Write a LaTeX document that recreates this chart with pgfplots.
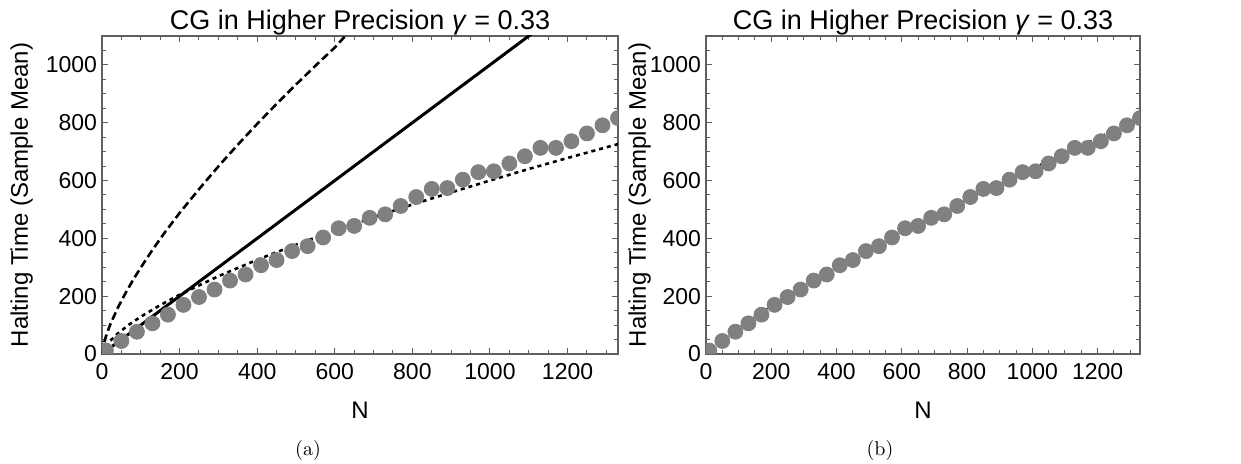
\documentclass[border=0pt]{standalone}
\usepackage{fontspec}
\usepackage{pgfplots}
\usepackage{pgfplotstable}
\pgfplotsset{compat=1.18}
\newfontfamily\arial{Liberation Sans}
\definecolor{dotgray}{RGB}{128,128,128}
\definecolor{framegray}{RGB}{95,95,95}

\pgfplotstableread{
N T
10 12
50 45
90 77
130 106
170 136
210 170
250 197
290 223
330 254
370 275
410 307
450 325
490 356
530 373
570 403
610 435
650 443
690 471
730 483
770 512
810 543
850 571
890 574
930 603
970 629
1010 632
1050 659
1090 684
1130 713
1170 713
1210 736
1250 763
1290 791
1330 816
}\dots

\pgfplotstableread{
N T
0 0
5 37
10 60
20 98
40 158
60 209
80 256
100 299
130 360
160 417
200 488
250 570
300 649
350 724
400 796
450 865
500 932
550 997
600 1060
627 1100
660 1150
}\dashedcurve

\pgfplotstableread{
N T
0 0
1100 1100
1140 1140
}\solidline

\pgfplotstableread{
N T
0 0
1 6
5 18
10 28
20 44
40 70
70 102
100 129
150 169
200 205
300 269
400 326
500 378
600 427
700 473
800 517
900 559
1000 600
1100 640
1200 678
1330 726
}\dottedcurve

\pgfplotstableread{
N T
0 0
10 13
50 52
100 93
200 166
300 234
400 298
500 359
600 418
700 476
800 533
900 588
1000 643
1100 696
1200 749
1330 817
}\fitcurve

\pgfplotsset{mystyle/.style={
  scale only axis, height=159pt,
  xmin=0,xmax=1330,ymin=0,ymax=1100,
  xtick={0,200,...,1200}, ytick={0,200,...,1000},
  minor xtick={50,100,...,1300}, minor ytick={50,100,...,1050},
  tick align=inside, major tick length=3pt, minor tick length=1.8pt,
  axis line style={framegray, line width=0.6pt},
  every tick/.style={framegray, line width=0.5pt},
  tick label style={font=\arial\fontsize{11.5}{13}\selectfont, black},
  /pgf/number format/assume math mode=true,
  /pgf/number format/1000 sep={},
  xticklabel style={yshift=-1pt},
  yticklabel style={xshift=1pt},
  label style={font=\arial\fontsize{12}{14}\selectfont},
  title style={font=\arial\fontsize{13.5}{15}\selectfont, at={(0.5,1)}, anchor=base, yshift=-3pt},
  title={CG in Higher Precision \textit{γ} = 0.33},
  xlabel={N}, ylabel={Halting Time (Sample Mean)},
  xlabel style={at={(axis description cs:0.5,-0.176)}, anchor=center},
  clip marker paths=true,
}}

\begin{document}
\begin{tikzpicture}
\path[use as bounding box] (0,0) rectangle (620.5pt,232pt);

\begin{axis}[mystyle, width=258pt, at={(51pt,55pt)}, anchor=south west,
  ylabel style={at={(axis description cs:-0.1556,0.5)}, anchor=center}]
\addplot[black, line width=1.3pt, dash pattern=on 4pt off 2pt] table[x=N,y=T] {\dashedcurve};
\addplot[black, line width=1.5pt] table[x=N,y=T] {\solidline};
\addplot[black, line width=1.3pt, dash pattern=on 2pt off 2pt] table[x=N,y=T] {\dottedcurve};
\addplot[only marks, mark=*, mark size=3.75pt, dotgray, mark options={draw=none, fill=dotgray}] table[x=N,y=T] {\dots};
\end{axis}

\begin{axis}[mystyle, width=217pt, at={(353pt,55pt)}, anchor=south west,
  ylabel style={at={(axis description cs:-0.153,0.5)}, anchor=center}]
\addplot[black, line width=0.6pt, dash pattern=on 1pt off 1.5pt] table[x=N,y=T] {\fitcurve};
\addplot[only marks, mark=*, mark size=3.75pt, dotgray, mark options={draw=none, fill=dotgray}] table[x=N,y=T] {\dots};
\end{axis}

\node[font=\fontsize{10}{12}\selectfont, anchor=center] at (154pt,6.7pt) {(a)};
\node[font=\fontsize{10}{12}\selectfont, anchor=center] at (440pt,6.7pt) {(b)};
\end{tikzpicture}
\end{document}
